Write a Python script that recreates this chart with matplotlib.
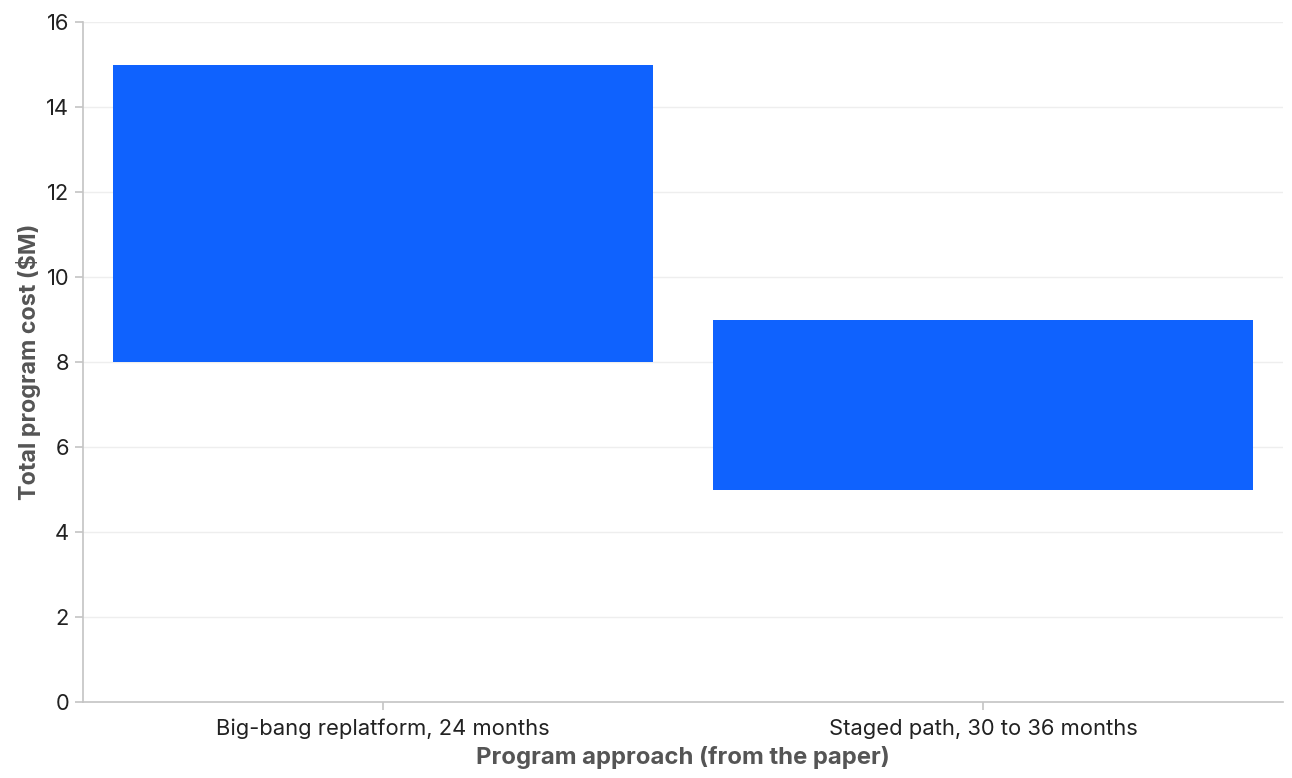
import matplotlib
matplotlib.use("Agg")
import matplotlib.pyplot as plt

categories = ["Big-bang replatform, 24 months", "Staged path, 30 to 36 months"]
cost_low = [8, 5]
cost_high = [15, 9]
y_ticks = [0, 2, 4, 6, 8, 10, 12, 14, 16]

plt.rcParams['font.family'] = ['Inter', 'DejaVu Sans']

fig = plt.figure(figsize=(12.92, 7.78), dpi=100)
ax = fig.add_axes([83/1292, 1 - 702/778, 1200/1292, 680/778])

x = list(range(len(categories)))
heights = [h - l for h, l in zip(cost_high, cost_low)]
ax.bar(x, heights, bottom=cost_low, width=0.9, color="#0F62FE", zorder=3)

ax.set_xlim(-0.5, len(categories) - 0.5)
ax.set_ylim(0, 16)
ax.set_yticks(y_ticks)
ax.set_xticks(x)
ax.set_xticklabels(categories)

ax.grid(axis='y', color='#eeeeee', linewidth=1, zorder=0)
ax.set_axisbelow(True)
for s in ['top', 'right']:
    ax.spines[s].set_visible(False)
for s in ['left', 'bottom']:
    ax.spines[s].set_color('#c4c4c4')
    ax.spines[s].set_linewidth(1.2)
ax.tick_params(axis='both', colors='#c4c4c4', length=6, width=1.2, labelcolor='#222222', labelsize=15.8)
ax.tick_params(axis='y', pad=4)
ax.tick_params(axis='x', pad=6)

ax.set_xlabel("Program approach (from the paper)", fontsize=17.2, fontweight='bold', color='#555555', labelpad=5)
ax.set_ylabel("Total program cost ($M)", fontsize=16.8, fontweight='bold', color='#555555', labelpad=4)

fig.savefig("out.png", dpi=100)
